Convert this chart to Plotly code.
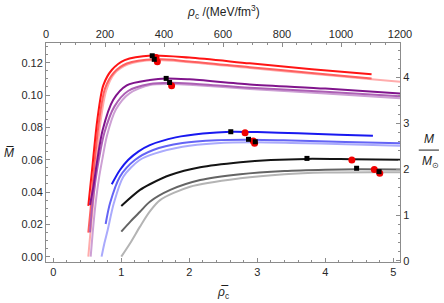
import plotly.graph_objects as go

# ---------------- data ----------------
red1_x = [0.515, 0.58, 0.647, 0.735, 0.86, 1.05, 1.45, 2.0, 2.89, 3.8, 4.68]
red1_y = [0.0314, 0.0578, 0.0845, 0.106, 0.1155, 0.1216, 0.1245, 0.1232, 0.1196, 0.116, 0.1128]
red2_x = [0.515, 0.55, 0.60, 0.67, 0.76, 0.89, 1.08, 1.5, 2.0, 2.89, 3.8, 4.68]
red2_y = [0.0149, 0.030, 0.055, 0.083, 0.104, 0.1138, 0.1195, 0.1222, 0.1208, 0.1172, 0.1137, 0.1103]
red3_x = [0.515, 0.54, 0.58, 0.63, 0.69, 0.78, 0.90, 1.10, 1.5, 2.0, 2.89, 3.8, 4.68, 5.1]
red3_y = [0.0, 0.012, 0.030, 0.055, 0.082, 0.103, 0.1133, 0.119, 0.1217, 0.1203, 0.1167, 0.1132, 0.1098, 0.1082]

pur1_x = [0.54, 0.59, 0.64, 0.726, 0.88, 1.08, 1.42, 1.66, 2.0, 2.89, 4.0, 5.1]
pur1_y = [0.032, 0.0433, 0.0578, 0.0783, 0.0969, 0.106, 0.1093, 0.1103, 0.1097, 0.1066, 0.104, 0.101]
pur2_x = [0.54, 0.57, 0.62, 0.67, 0.75, 0.90, 1.10, 1.42, 1.72, 2.0, 2.89, 4.0, 5.1]
pur2_y = [0.015, 0.030, 0.047, 0.060, 0.0765, 0.093, 0.1025, 0.1068, 0.1076, 0.1072, 0.1045, 0.102, 0.0992]
pur3_x = [0.55, 0.58, 0.62, 0.67, 0.72, 0.79, 0.92, 1.12, 1.42, 1.75, 2.0, 2.89, 4.0, 5.1]
pur3_y = [0.0, 0.015, 0.032, 0.048, 0.060, 0.075, 0.091, 0.101, 0.1062, 0.1068, 0.1064, 0.1038, 0.101, 0.098]

blu1_x = [0.86, 0.98, 1.10, 1.25, 1.42, 1.8, 2.2, 2.61, 3.0, 3.6, 4.2, 4.70]
blu1_y = [0.0448, 0.0536, 0.0598, 0.065, 0.069, 0.0738, 0.0762, 0.0773, 0.0771, 0.0763, 0.0755, 0.0748]
blu2_x = [0.77, 0.834, 0.98, 1.2, 1.47, 1.9, 2.4, 2.9, 3.5, 4.3, 5.1]
blu2_y = [0.0202, 0.033, 0.0495, 0.0598, 0.066, 0.0703, 0.0721, 0.0724, 0.0719, 0.071, 0.0701]
blu3_x = [0.71, 0.75, 0.80, 0.89, 1.03, 1.27, 1.50, 1.9, 2.4, 2.95, 3.5, 4.3, 5.1]
blu3_y = [0.0, 0.008, 0.0165, 0.033, 0.0495, 0.0598, 0.0639, 0.068, 0.0702, 0.0708, 0.0704, 0.0695, 0.0686]

blk1_x = [1.0, 1.275, 1.42, 1.72, 2.16, 2.75, 3.2, 3.73, 4.39, 5.1]
blk1_y = [0.0314, 0.0413, 0.0448, 0.0505, 0.0553, 0.0584, 0.0598, 0.0605, 0.0603, 0.0600]
blk2_x = [1.0, 1.14, 1.275, 1.42, 1.72, 2.16, 2.75, 3.4, 4.0, 4.46, 5.1]
blk2_y = [0.0155, 0.022, 0.0278, 0.034, 0.0413, 0.0474, 0.051, 0.053, 0.0538, 0.0541, 0.054]
blk3_x = [1.0, 1.13, 1.275, 1.42, 1.57, 2.01, 2.75, 3.4, 4.0, 4.8, 5.1]
blk3_y = [0.0, 0.0083, 0.0186, 0.028, 0.035, 0.0433, 0.0485, 0.051, 0.052, 0.0522, 0.0522]

sq_x = [1.455, 1.485, 1.66, 1.71, 2.61, 2.87, 2.97, 3.73, 4.46, 4.79]
sq_y = [0.1243, 0.1221, 0.1103, 0.1078, 0.0773, 0.0726, 0.0711, 0.0608, 0.0547, 0.0526]
dot_x = [1.51, 1.53, 1.74, 2.82, 2.94, 2.96, 4.39, 4.72, 4.80]
dot_y = [0.1233, 0.1206, 0.1058, 0.0767, 0.0715, 0.0701, 0.0598, 0.0540, 0.0516]

top_ticks = [0, 200, 400, 600, 800, 1000, 1200]
right_ticks = [0, 1, 2, 3, 4]
bottom_ticks = [0, 1, 2, 3, 4, 5]
left_ticks = [0.0, 0.02, 0.04, 0.06, 0.08, 0.10, 0.12]

series = [
    (red3_x, red3_y, "rgb(255,172,172)"),
    (red2_x, red2_y, "rgb(255,95,95)"),
    (red1_x, red1_y, "rgb(255,20,20)"),
    (pur3_x, pur3_y, "rgb(205,160,212)"),
    (pur2_x, pur2_y, "rgb(172,95,180)"),
    (pur1_x, pur1_y, "rgb(128,20,140)"),
    (blu3_x, blu3_y, "rgb(170,170,252)"),
    (blu2_x, blu2_y, "rgb(100,100,245)"),
    (blu1_x, blu1_y, "rgb(25,25,240)"),
    (blk3_x, blk3_y, "rgb(180,180,180)"),
    (blk2_x, blk2_y, "rgb(100,100,100)"),
    (blk1_x, blk1_y, "rgb(20,20,20)"),
]

fig = go.Figure()
for xs, ys, col in series:
    fig.add_trace(go.Scatter(x=xs, y=ys, mode="lines",
                             line=dict(color=col, width=2, shape="spline", smoothing=0.8),
                             hoverinfo="skip", showlegend=False))

fig.add_trace(go.Scatter(x=dot_x, y=dot_y, mode="markers",
                         marker=dict(color="rgb(240,0,0)", size=7, symbol="circle"),
                         showlegend=False, hoverinfo="skip"))
fig.add_trace(go.Scatter(x=sq_x, y=sq_y, mode="markers",
                         marker=dict(color="black", size=5, symbol="square"),
                         showlegend=False, hoverinfo="skip"))

# invisible trace so the top / right axes exist
fig.add_trace(go.Scatter(x=[top_ticks[0], top_ticks[-1]], y=[right_ticks[0], right_ticks[-1]],
                         xaxis="x2", yaxis="y2", mode="lines", opacity=0,
                         showlegend=False, hoverinfo="skip"))

frame = "rgb(140,140,140)"
tickfont = dict(family="Liberation Sans, Arial, sans-serif", size=11, color="rgb(40,40,40)")
common = dict(showgrid=False, zeroline=False, showline=True, linecolor=frame, linewidth=1,
              ticks="inside", ticklen=4, tickcolor=frame, tickfont=tickfont, automargin=False)

fig.update_layout(
    width=444, height=303,
    margin=dict(l=46, r=44, t=43, b=41, autoexpand=False),
    paper_bgcolor="white", plot_bgcolor="white",
    showlegend=False,
    xaxis=dict(range=[-0.107, 5.098], tickvals=bottom_ticks, ticktext=[str(v) for v in bottom_ticks],
               minor=dict(dtick=0.2, tick0=0, ticks="inside", ticklen=2, tickcolor=frame),
               **common),
    yaxis=dict(range=[-0.0033, 0.1322], tickvals=left_ticks, ticktext=["%.2f" % v for v in left_ticks],
               minor=dict(dtick=0.005, tick0=0, ticks="inside", ticklen=2, tickcolor=frame),
               **common),
    xaxis2=dict(range=[0, 1200], overlaying="x", side="top", anchor="y",
                tickvals=top_ticks, ticktext=[str(v) for v in top_ticks],
                minor=dict(dtick=50, tick0=0, ticks="inside", ticklen=2, tickcolor=frame),
                **common),
    yaxis2=dict(range=[-0.026, 4.755], overlaying="y", side="right", anchor="x",
                tickvals=right_ticks, ticktext=[str(v) for v in right_ticks],
                minor=dict(dtick=0.2, tick0=0, ticks="inside", ticklen=2, tickcolor=frame),
                **common),
)

tfont = dict(family="Liberation Sans, Arial, sans-serif", size=12, color="rgb(30,30,30)")
fig.add_annotation(text="<i>ρ\u0305</i><sub>c</sub>", x=0.5, y=-0.14, xref="paper", yref="paper",
                   showarrow=False, xanchor="center", yanchor="middle", font=tfont)
fig.add_annotation(text="<i>ρ</i><sub>c</sub> /(MeV/fm<sup>3</sup>)", x=0.5, y=1.14, xref="paper", yref="paper",
                   showarrow=False, xanchor="center", yanchor="middle", font=tfont)
fig.add_annotation(text="<i>M\u0305</i>", x=-0.104, y=0.50, xref="paper", yref="paper",
                   showarrow=False, xanchor="center", yanchor="middle", font=tfont)
fig.add_annotation(text="<i>M</i>", x=1.082, y=0.56, xref="paper", yref="paper",
                   showarrow=False, xanchor="center", yanchor="middle", font=tfont)
fig.add_annotation(text="<i>M</i><sub>⊙</sub>", x=1.086, y=0.455, xref="paper", yref="paper",
                   showarrow=False, xanchor="center", yanchor="middle", font=tfont)
fig.add_shape(type="line", xref="paper", yref="paper", x0=1.053, x1=1.11, y0=0.511, y1=0.511,
              line=dict(color="rgb(30,30,30)", width=1))

fig.write_html("out.html", config={"displayModeBar": False},
               post_script="document.body.style.margin='0';document.body.style.padding='0';")
